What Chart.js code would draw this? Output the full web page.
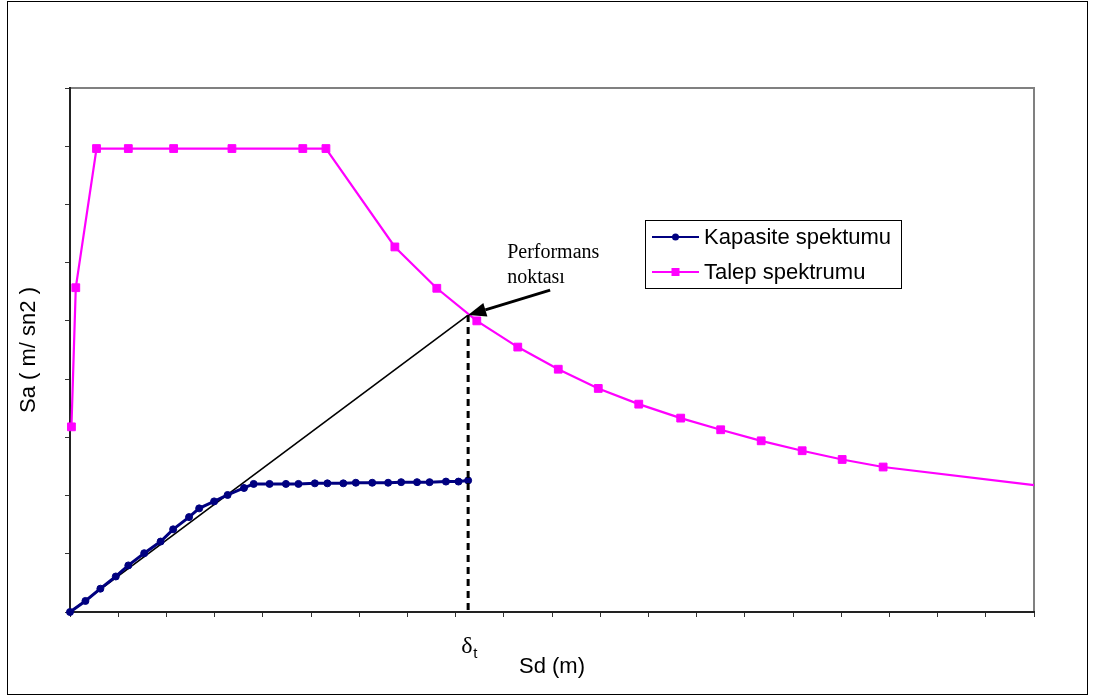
<!DOCTYPE html>
<html>
<head>
<meta charset="utf-8">
<title>Kapasite ve talep spektrumu</title>
<script src="https://cdn.jsdelivr.net/npm/chart.js@4"></script>
<style>
  html, body { margin: 0; padding: 0; background: #fff; }
  canvas { display: block; }
</style>
</head>
<body>
<canvas id="spektrum" width="1093" height="697"></canvas>
<script>
// Kapasite spektrumu (Sd, Sa)
const kapasiteSd = [0, 0.32, 0.63, 0.95, 1.21, 1.54, 1.88, 2.14, 2.47, 2.68, 2.99, 3.27, 3.61, 3.81,
  4.14, 4.48, 4.74, 5.08, 5.34, 5.67, 5.93, 6.27, 6.60, 6.87, 7.20, 7.46, 7.80, 8.06, 8.26];
const kapasiteSa = [0, 0.19, 0.40, 0.61, 0.80, 1.01, 1.21, 1.42, 1.63, 1.78, 1.90, 2.01, 2.13, 2.20,
  2.20, 2.20, 2.20, 2.21, 2.21, 2.21, 2.22, 2.22, 2.22, 2.23, 2.23, 2.23, 2.24, 2.24, 2.26];

// Talep spektrumu (Sd, Sa) - son nokta eksen sinirinda, isaretsiz
const talepSd = [0.03, 0.12, 0.55, 1.21, 2.15, 3.36, 4.83, 5.31, 6.74, 7.61, 8.44, 9.29, 10.13,
  10.96, 11.80, 12.67, 13.50, 14.34, 15.19, 16.02, 16.87, 20];
const talepSa = [3.18, 5.57, 7.96, 7.96, 7.96, 7.96, 7.96, 7.96, 6.27, 5.56, 5.00, 4.55, 4.17,
  3.84, 3.57, 3.33, 3.13, 2.94, 2.77, 2.62, 2.49, 2.18];

// Performans noktasi
const performansSd = 8.26;
const performansSa = 5.10;

const seriAdlari = ['Kapasite spektumu', 'Talep spektrumu'];
const xBaslik = 'Sd (m)';
const yBaslik = 'Sa ( m/ sn2 )';
const notYazisi = ['Performans', 'noktası'];
const sdEksen = { min: 0, max: 20, adim: 1 };
const saEksen = { min: 0, max: 9, adim: 1 };

const LACIVERT = '#000080';
const MACENTA = '#ff00ff';
const SANS = '"Liberation Sans", Arial, sans-serif';
const SERIF = '"Liberation Serif", "Times New Roman", serif';

const noktalar = (xs, ys) => xs.map((x, i) => ({ x: x, y: ys[i] }));

// cerceve ve cizim alaninin ust/sag gri kenarlari
const cerceve = {
  id: 'cerceve',
  beforeDraw(chart) {
    const ctx = chart.ctx;
    const a = chart.chartArea;
    ctx.save();
    ctx.fillStyle = '#fff';
    ctx.fillRect(0, 0, chart.width, chart.height);
    ctx.strokeStyle = '#000';
    ctx.lineWidth = 1;
    ctx.strokeRect(7.5, 1.5, 1080, 693);
    ctx.strokeStyle = '#808080';
    ctx.lineWidth = 2;
    ctx.beginPath();
    ctx.moveTo(a.left, a.top);
    ctx.lineTo(a.right, a.top);
    ctx.lineTo(a.right, a.bottom);
    ctx.stroke();
    ctx.restore();
  }
};

// ok, "Performans noktasi" yazisi ve delta_t etiketi
const notlar = {
  id: 'notlar',
  afterDatasetsDraw(chart) {
    const ctx = chart.ctx;
    const xs = chart.scales.x, ys = chart.scales.y;
    const px = xs.getPixelForValue(performansSd);
    const py = ys.getPixelForValue(performansSa);

    // ok
    const kx = px + 82, ky = py - 25;
    const ang = Math.atan2(py - ky, px - kx);
    const boy = 18, yari = 7;
    const bx = px - boy * Math.cos(ang), by = py - boy * Math.sin(ang);
    ctx.save();
    ctx.strokeStyle = '#000';
    ctx.fillStyle = '#000';
    ctx.lineWidth = 3;
    ctx.beginPath();
    ctx.moveTo(kx, ky);
    ctx.lineTo(bx, by);
    ctx.stroke();
    ctx.beginPath();
    ctx.moveTo(px, py);
    ctx.lineTo(bx + yari * Math.sin(ang), by - yari * Math.cos(ang));
    ctx.lineTo(bx - yari * Math.sin(ang), by + yari * Math.cos(ang));
    ctx.closePath();
    ctx.fill();

    ctx.font = '20px ' + SERIF;
    ctx.textAlign = 'left';
    ctx.textBaseline = 'alphabetic';
    ctx.fillText(notYazisi[0], px + 39, py - 57);
    ctx.fillText(notYazisi[1], px + 39, py - 32);

    // delta_t
    const altY = ys.getPixelForValue(saEksen.min);
    ctx.font = '24px ' + SERIF;
    ctx.fillText('δ', px - 7, altY + 41);
    ctx.font = '15px ' + SANS;
    ctx.fillText('t', px + 5, altY + 46);
    ctx.restore();
  }
};

// cerceveli gosterge kutusu
const gosterge = {
  id: 'gosterge',
  afterDraw(chart) {
    const ctx = chart.ctx;
    ctx.save();
    ctx.fillStyle = '#fff';
    ctx.fillRect(645, 220, 257, 69);
    ctx.strokeStyle = '#000';
    ctx.lineWidth = 1;
    ctx.strokeRect(645.5, 220.5, 256, 68);
    const satirlar = [237, 272];
    chart.data.datasets.slice(0, 2).forEach((ds, i) => {
      const y = satirlar[i];
      ctx.strokeStyle = ds.borderColor;
      ctx.lineWidth = 2;
      ctx.beginPath();
      ctx.moveTo(652, y);
      ctx.lineTo(699, y);
      ctx.stroke();
      ctx.fillStyle = ds.borderColor;
      if (ds.pointStyle === 'rect') {
        ctx.fillRect(671.5, y - 4, 8, 8);
      } else {
        ctx.beginPath();
        ctx.arc(675.5, y, 3.5, 0, Math.PI * 2);
        ctx.fill();
      }
      ctx.fillStyle = '#000';
      ctx.font = '22px ' + SANS;
      ctx.textBaseline = 'middle';
      ctx.fillText(ds.label, 704, y + 1);
    });
    ctx.restore();
  }
};

new Chart(document.getElementById('spektrum'), {
  type: 'line',
  data: {
    datasets: [
      {
        label: seriAdlari[0],
        data: noktalar(kapasiteSd, kapasiteSa),
        borderColor: LACIVERT,
        backgroundColor: LACIVERT,
        borderWidth: 3,
        pointStyle: 'circle',
        pointRadius: 3.5,
        pointBorderWidth: 1,
        pointBackgroundColor: LACIVERT,
        pointBorderColor: LACIVERT,
        clip: false,
        order: 1
      },
      {
        label: seriAdlari[1],
        data: noktalar(talepSd, talepSa),
        borderColor: MACENTA,
        backgroundColor: MACENTA,
        borderWidth: 2.2,
        pointStyle: 'rect',
        pointRadius: (c) => c.dataIndex === talepSd.length - 1 ? 0 : 5.5,
        pointBorderWidth: 1,
        pointBackgroundColor: MACENTA,
        pointBorderColor: MACENTA,
        clip: false,
        order: 2
      },
      {
        label: 'esdeger rijitlik',
        data: noktalar([0, performansSd], [0, performansSa]),
        borderColor: '#000',
        borderWidth: 1.6,
        pointRadius: 0,
        order: 3
      },
      {
        label: 'delta_t',
        data: noktalar([performansSd, performansSd], [performansSa, saEksen.min]),
        borderColor: '#000',
        borderWidth: 3,
        borderDash: [7, 5],
        pointRadius: 0,
        clip: false,
        order: 0
      }
    ]
  },
  options: {
    responsive: false,
    animation: false,
    events: [],
    layout: { padding: { left: 0, top: 88, right: 59, bottom: 0 } },
    elements: { line: { tension: 0 } },
    plugins: {
      legend: { display: false },
      tooltip: { enabled: false }
    },
    scales: {
      x: {
        type: 'linear',
        min: sdEksen.min,
        max: sdEksen.max,
        ticks: { display: false, stepSize: sdEksen.adim },
        grid: { drawOnChartArea: false, drawTicks: true, tickLength: 5, color: '#333', lineWidth: 1 },
        border: { display: true, color: '#222', width: 2 },
        title: {
          display: true,
          text: xBaslik,
          color: '#000',
          font: { family: SANS, size: 22 },
          padding: { top: 0, bottom: 17 }
        },
        afterFit(s) { s.height = 85; }
      },
      y: {
        type: 'linear',
        min: saEksen.min,
        max: saEksen.max,
        ticks: { display: false, stepSize: saEksen.adim },
        grid: { drawOnChartArea: false, drawTicks: true, tickLength: 5, color: '#333', lineWidth: 1 },
        border: { display: true, color: '#222', width: 2 },
        title: {
          display: true,
          text: yBaslik,
          color: '#000',
          font: { family: SANS, size: 22 },
          padding: { top: 16, bottom: 0 }
        },
        afterFit(s) { s.width = 70; }
      }
    }
  },
  plugins: [cerceve, notlar, gosterge]
});
</script>
</body>
</html>
